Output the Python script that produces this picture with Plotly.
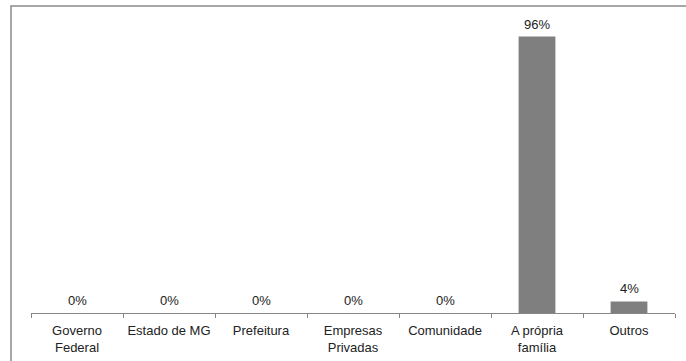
import plotly.graph_objects as go

categories = ["Governo<br>Federal", "Estado de MG", "Prefeitura", "Empresas<br>Privadas",
              "Comunidade", "A própria<br>família", "Outros"]
values = [0.0, 0.0, 0.0, 0.0, 0.0, 0.96, 0.04]
labels = ["0%", "0%", "0%", "0%", "0%", "96%", "4%"]

fig = go.Figure()
fig.add_trace(go.Bar(
    x=categories, y=values,
    marker=dict(color="#7f7f7f", line=dict(width=0)),
    width=0.4, cliponaxis=False,
))

for c, v, lab in zip(categories, values, labels):
    fig.add_annotation(x=c, y=v, text=lab, showarrow=False, yanchor="bottom",
                       yshift=3, font=dict(family="Liberation Sans, Arial", size=13,
                                           color="#222222"))

W, H = 686, 361
l, r, t, b = 31, 11, 25, 48
pw, ph = W - l - r, H - t - b

def px_to_paper_x(px):
    return (px - l) / pw

def px_to_paper_y(py):
    return (H - b - py) / ph

fig.update_layout(
    width=W, height=H,
    margin=dict(l=l, r=r, t=t, b=b, pad=0, autoexpand=False),
    paper_bgcolor="white", plot_bgcolor="white",
    font=dict(family="Liberation Sans, Arial", size=13, color="#222222"),
    showlegend=False,
    xaxis=dict(showline=True, linecolor="#868686", linewidth=1,
               ticks="outside", ticklen=4, tickcolor="#868686",
               tickson="boundaries", showgrid=False, tickangle=0,
               automargin=False, ticklabelstandoff=5,
               tickfont=dict(size=13, color="#222222")),
    yaxis=dict(range=[0, 1], visible=False, showgrid=False, automargin=False),
    shapes=[dict(type="rect", xref="paper", yref="paper",
                 x0=px_to_paper_x(11), x1=px_to_paper_x(700),
                 y0=px_to_paper_y(380), y1=px_to_paper_y(6),
                 line=dict(color="#8a8a8a", width=1.5), layer="below")],
)

fig.write_html("out.html")
